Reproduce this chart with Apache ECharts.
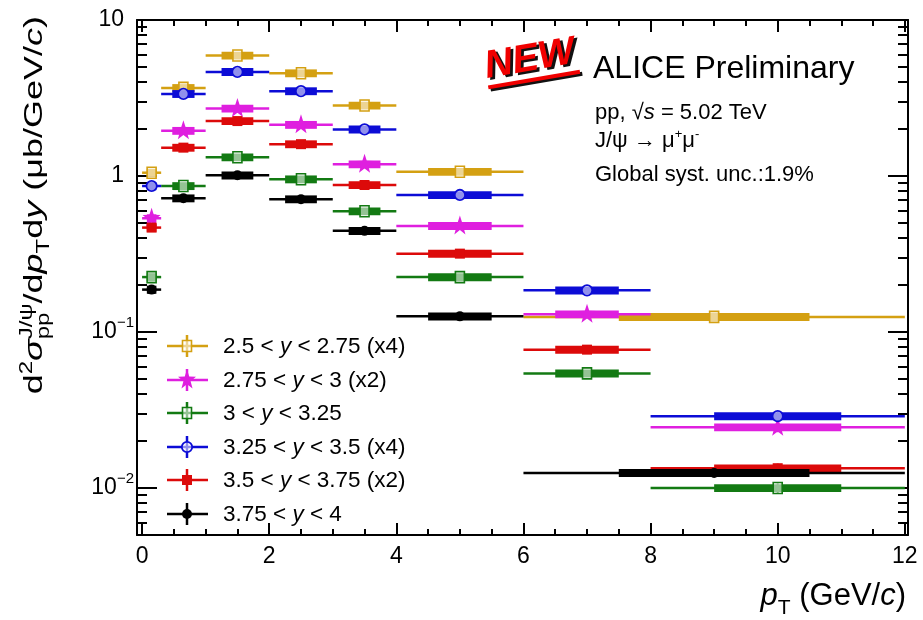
<!DOCTYPE html>
<html>
<head>
<meta charset="utf-8">
<script src="https://cdn.jsdelivr.net/npm/echarts@6/dist/echarts.min.js"></script>
<style>
  html, body { margin: 0; padding: 0; background: #fff; }
  #chart { width: 923px; height: 620px; }
</style>
</head>
<body>
<div id="chart"></div>
<script>
// pT bin edges (GeV/c); the two lowest-statistics intervals merge 6-12
const ptEdges = [0, 0.3, 1, 2, 3, 4, 6, 8, 12];
const ptEdgesWide = [0, 0.3, 1, 2, 3, 4, 6, 12];

// Rapidity intervals and the factor each one is scaled by
const yLow = ['2.5', '2.75', '3', '3.25', '3.5', '3.75'];
const yHigh = ['2.75', '3', '3.25', '3.5', '3.75', '4'];
const scaleTag = ['(x4)', '(x2)', '', '(x4)', '(x2)', ''];

// d2sigma/dpT dy in ub/(GeV/c), scale factors already applied
const xsec_250_275 = [1.05, 3.67, 5.92, 4.56, 2.83, 1.065, 0.125];
const xsec_275_300 = [0.536, 1.95, 2.71, 2.13, 1.19, 0.479, 0.130, 0.0245];
const xsec_300_325 = [0.225, 0.863, 1.32, 0.953, 0.594, 0.225, 0.0543, 0.0100];
const xsec_325_350 = [0.863, 3.36, 4.65, 3.50, 1.99, 0.756, 0.185, 0.0289];
const xsec_350_375 = [0.467, 1.52, 2.25, 1.60, 0.876, 0.318, 0.0771, 0.0134];
const xsec_375_400 = [0.187, 0.72, 1.01, 0.71, 0.445, 0.126, 0.0125];

// Relative statistical uncertainties
const stat_250_275 = [0.03, 0.015, 0.012, 0.012, 0.015, 0.02, 0.05];
const stat_275_300 = [0.03, 0.015, 0.012, 0.012, 0.015, 0.02, 0.04, 0.07];
const stat_300_325 = [0.03, 0.015, 0.012, 0.012, 0.015, 0.02, 0.04, 0.07];
const stat_325_350 = [0.03, 0.015, 0.012, 0.012, 0.015, 0.02, 0.04, 0.07];
const stat_350_375 = [0.03, 0.015, 0.012, 0.012, 0.015, 0.02, 0.04, 0.07];
const stat_375_400 = [0.03, 0.015, 0.012, 0.012, 0.015, 0.02, 0.05];

// Relative systematic uncertainties (boxes)
const sys_250_275 = [0.06, 0.058, 0.058, 0.058, 0.058, 0.058, 0.058];
const sys_275_300 = [0.06, 0.058, 0.058, 0.058, 0.058, 0.058, 0.058, 0.058];
const sys_300_325 = [0.06, 0.058, 0.058, 0.058, 0.058, 0.058, 0.058, 0.058];
const sys_325_350 = [0.06, 0.058, 0.058, 0.058, 0.058, 0.058, 0.058, 0.058];
const sys_350_375 = [0.06, 0.058, 0.058, 0.058, 0.058, 0.058, 0.058, 0.058];
const sys_375_400 = [0.06, 0.058, 0.058, 0.058, 0.058, 0.058, 0.058];

// Axis ticks and labels
const xTickValues = [0, 2, 4, 6, 8, 10, 12];
const xTickLabels = ['0', '2', '4', '6', '8', '10', '12'];
const yTickValues = [0.01, 0.1, 1, 10];
const yTickLabels = ['10^−2', '10^−1', '1', '10'];

const X_MIN = -0.08, X_MAX = 12.05;
const Y_MIN = 0.005, Y_MAX = 10;

const FAMILY = '"Liberation Sans", Arial, Helvetica, sans-serif';

const xMinorValues = [];
for (let v = 0.5; v < 12; v += 0.5) if (v % 2 !== 0) xMinorValues.push(v);
const yMinorValues = [];
for (let e = -3; e <= 0; e++) {
  for (let m = 2; m <= 9; m++) {
    const v = +(m * Math.pow(10, e)).toPrecision(3);
    if (v >= Y_MIN && v < Y_MAX) yMinorValues.push(v);
  }
}

const groups = [
  { vals: xsec_250_275, edges: ptEdgesWide, stat: stat_250_275, sys: sys_250_275, color: '#d4a012', marker: 'openSquare' },
  { vals: xsec_275_300, edges: ptEdges, stat: stat_275_300, sys: sys_275_300, color: '#df1fdf', marker: 'star' },
  { vals: xsec_300_325, edges: ptEdges, stat: stat_300_325, sys: sys_300_325, color: '#137a13', marker: 'openSquare' },
  { vals: xsec_325_350, edges: ptEdges, stat: stat_325_350, sys: sys_325_350, color: '#0c0cd6', marker: 'openCircle' },
  { vals: xsec_350_375, edges: ptEdges, stat: stat_350_375, sys: sys_350_375, color: '#dc0a0a', marker: 'fullSquare' },
  { vals: xsec_375_400, edges: ptEdgesWide, stat: stat_375_400, sys: sys_375_400, color: '#000000', marker: 'fullCircle' }
];

// ---------- marker shapes ----------
function starPoints(cx, cy, R, r, sx) {
  const pts = [];
  for (let k = 0; k < 10; k++) {
    const a = -Math.PI / 2 + k * Math.PI / 5;
    const rad = k % 2 ? r : R;
    pts.push([cx + sx * rad * Math.cos(a), cy + rad * Math.sin(a)]);
  }
  return pts;
}
function markerShapes(kind, color, cx, cy) {
  switch (kind) {
    case 'openSquare':
      return [{ type: 'rect', shape: { x: cx - 4.5, y: cy - 5.5, width: 9, height: 11 },
        style: { fill: 'rgba(255,255,255,0.55)', stroke: color, lineWidth: 1.6 } }];
    case 'star':
      return [{ type: 'polygon', shape: { points: starPoints(cx, cy, 10.5, 4.2, 0.9) }, style: { fill: color } }];
    case 'openCircle':
      return [{ type: 'circle', shape: { cx: cx, cy: cy, r: 5.2 },
        style: { fill: 'rgba(255,255,255,0.55)', stroke: color, lineWidth: 1.8 } }];
    case 'fullSquare':
      return [{ type: 'rect', shape: { x: cx - 5, y: cy - 5, width: 10, height: 10 }, style: { fill: color } }];
    default:
      return [{ type: 'circle', shape: { cx: cx, cy: cy, r: 5 }, style: { fill: color } }];
  }
}

// ---------- one series per rapidity interval ----------
function makeSeries(g) {
  const data = g.vals.map((v, i) => [g.edges[i], g.edges[i + 1], v, g.stat[i] * v, g.sys[i]]);
  return {
    type: 'custom',
    xAxisIndex: 0,
    yAxisIndex: 0,
    data: data,
    encode: { x: [0, 1], y: 2 },
    renderItem: function (params, api) {
      const lo = api.value(0), hi = api.value(1), v = api.value(2), es = api.value(3), rs = api.value(4);
      const mid = (lo + hi) / 2, q = (hi - lo) / 4;
      const a = api.coord([lo, v]), b = api.coord([hi, v]), c = api.coord([mid, v]);
      const t = api.coord([lo + q, v * (1 + rs)]), u = api.coord([hi - q, v * (1 - rs)]);
      const e1 = api.coord([mid, v + es]), e2 = api.coord([mid, v - es]);
      return {
        type: 'group',
        children: [
          { type: 'line', shape: { x1: a[0], y1: a[1], x2: b[0], y2: b[1] }, style: { stroke: g.color, lineWidth: 2.5 } },
          { type: 'rect', shape: { x: t[0], y: t[1], width: u[0] - t[0], height: u[1] - t[1] }, style: { fill: g.color } },
          { type: 'line', shape: { x1: e1[0], y1: e1[1], x2: e2[0], y2: e2[1] }, style: { stroke: g.color, lineWidth: 2 } }
        ].concat(markerShapes(g.marker, g.color, c[0], c[1]))
      };
    }
  };
}

// ---------- text runs with italics, sub- and superscripts ----------
const meas = document.createElement('canvas').getContext('2d');
function run(segs, base, color, bold) {
  const kids = [];
  let x = 0, held = 0;
  segs.forEach(function (sg) {
    const size = sg.size || base;
    const it = !!sg.it;
    meas.font = (it ? 'italic ' : '') + (bold ? 'bold ' : '') + size + 'px ' + FAMILY;
    const w = meas.measureText(sg.t).width;
    kids.push({
      type: 'text', x: x + (sg.dx || 0), y: -(sg.rise || 0) - 0.33 * size,
      style: {
        text: sg.t, fontSize: size, fontFamily: FAMILY,
        fontStyle: it ? 'italic' : 'normal', fontWeight: bold ? 'bold' : 'normal',
        fill: color || '#000', textAlign: 'left', textVerticalAlign: 'middle', verticalAlign: 'middle'
      }
    });
    if (sg.hold) { held = w; } else { x += Math.max(w, held); held = 0; }
  });
  return { kids: kids, width: x };
}

const graphics = [];

// y-axis title, reading upwards
const yTitle = run([
  { t: 'd' }, { t: '2', size: 24, rise: 14 }, { t: 'σ', it: true },
  { t: 'J/ψ', size: 24, rise: 14, hold: true }, { t: 'pp', size: 24, rise: -9 },
  { t: '/d' }, { t: 'p', it: true }, { t: 'T', size: 24, rise: -9 },
  { t: 'd' }, { t: 'y', it: true }, { t: ' (μb/GeV/' }, { t: 'c', it: true }, { t: ')' }
], 36, '#000');
graphics.push({ type: 'group', x: 43, y: 16 + yTitle.width, rotation: Math.PI / 2, scaleY: 0.74, children: yTitle.kids });

// x-axis title, right aligned
const xTitle = run([
  { t: 'p', it: true }, { t: 'T', size: 21, rise: -8 }, { t: ' (GeV/' }, { t: 'c', it: true }, { t: ')' }
], 31, '#000');
graphics.push({ type: 'group', x: 906 - xTitle.width, y: 607, children: xTitle.kids });

// "NEW" stamp
const stampShadow = run([{ t: 'NEW', it: true }], 39, '#111', true);
const stampFace = run([{ t: 'NEW', it: true }], 39, '#f00000', true);
graphics.push({
  type: 'group', x: 487, y: 80, rotation: 0.17,
  children: [
    { type: 'group', x: 2.5, y: 2.5, children: stampShadow.kids },
    { type: 'group', x: 0, y: 0, children: stampFace.kids },
    { type: 'line', shape: { x1: 2, y1: 10, x2: stampFace.width + 4, y2: 10 }, style: { stroke: '#111', lineWidth: 4 } },
    { type: 'line', shape: { x1: 0, y1: 7.5, x2: stampFace.width + 2, y2: 7.5 }, style: { stroke: '#f00000', lineWidth: 4 } }
  ]
});

// Experiment / collision labels
const infoLines = [
  { segs: [{ t: 'ALICE Preliminary' }], size: 32, x: 593, base: 80 },
  { segs: [{ t: 'pp, √' }, { t: 's', it: true }, { t: ' = 5.02 TeV' }], size: 22, x: 595, base: 120 },
  { segs: [{ t: 'J/ψ → μ' }, { t: '+', size: 13, rise: 9 }, { t: 'μ' }, { t: '-', size: 13, rise: 9 }], size: 22, x: 595, base: 148 },
  { segs: [{ t: 'Global syst. unc.:1.9%' }], size: 22, x: 595, base: 182 }
];
infoLines.forEach(function (ln) {
  const r = run(ln.segs, ln.size, '#000');
  graphics.push({ type: 'group', x: ln.x, y: ln.base, children: r.kids });
});

// Legend entries
const legendRows = [346, 380, 413, 447, 480, 514];
groups.forEach(function (g, i) {
  const cy = legendRows[i];
  graphics.push({ type: 'line', shape: { x1: 167, y1: cy, x2: 208, y2: cy }, style: { stroke: g.color, lineWidth: 2.5 } });
  graphics.push({ type: 'line', shape: { x1: 187, y1: cy - 11, x2: 187, y2: cy + 11 }, style: { stroke: g.color, lineWidth: 2.5 } });
  markerShapes(g.marker, g.color, 187, cy).forEach(function (m) { graphics.push(m); });
  const tail = ' < ' + yHigh[i] + (scaleTag[i] ? ' ' + scaleTag[i] : '');
  const r = run([{ t: yLow[i] + ' < ' }, { t: 'y', it: true }, { t: tail }], 22.5, '#000');
  graphics.push({ type: 'group', x: 223, y: cy + 8, children: r.kids });
});

// ---------- axes: labelled major ticks, mirrored frame, minor ticks ----------
function xAx(pos, line, ticks, len, labels) {
  return {
    type: 'value', position: pos, min: X_MIN, max: X_MAX,
    axisLine: { show: line, onZero: false, lineStyle: { color: '#000', width: 2 } },
    axisTick: { show: true, inside: true, length: len, customValues: ticks, lineStyle: { color: '#000', width: 2 } },
    axisLabel: labels ? {
      show: true, customValues: xTickValues, margin: 10, fontSize: 23, fontFamily: FAMILY, color: '#000',
      formatter: function (v) { const k = xTickValues.indexOf(v); return k >= 0 ? xTickLabels[k] : ''; }
    } : { show: false },
    splitLine: { show: false }, minorTick: { show: false }, minorSplitLine: { show: false }
  };
}
function yAx(pos, line, ticks, len, labels) {
  return {
    type: 'log', logBase: 10, position: pos, min: Y_MIN, max: Y_MAX,
    axisLine: { show: line, onZero: false, lineStyle: { color: '#000', width: 2 } },
    axisTick: { show: true, inside: true, length: len, customValues: ticks, lineStyle: { color: '#000', width: 2 } },
    axisLabel: labels ? {
      show: true, customValues: yTickValues, margin: 3, color: '#000',
      formatter: function (v) {
        let k = -1;
        yTickValues.forEach(function (t, j) { if (Math.abs(Math.log10(v) - Math.log10(t)) < 1e-6) k = j; });
        if (k < 0) return '';
        const parts = yTickLabels[k].split('^');
        return parts.length > 1 ? '{b|' + parts[0] + '}{s|' + parts[1] + '}' : '{p|' + parts[0] + '}';
      },
      rich: {
        b: { fontSize: 23, fontFamily: FAMILY, color: '#000', lineHeight: 34 },
        p: { fontSize: 23, fontFamily: FAMILY, color: '#000', lineHeight: 34, padding: [0, 10, 0, 0] },
        s: { fontSize: 15, fontFamily: FAMILY, color: '#000', lineHeight: 15, verticalAlign: 'top' }
      }
    } : { show: false },
    splitLine: { show: false }, minorTick: { show: false }, minorSplitLine: { show: false }
  };
}

const option = {
  animation: false,
  backgroundColor: '#ffffff',
  grid: { left: 137, right: 15, top: 20, bottom: 85, containLabel: false, outerBoundsMode: 'none' },
  xAxis: [
    xAx('bottom', true, xTickValues, 12, true),
    xAx('top', true, xTickValues, 12, false),
    xAx('bottom', false, xMinorValues, 6, false),
    xAx('top', false, xMinorValues, 6, false)
  ],
  yAxis: [
    yAx('left', true, yTickValues, 20, true),
    yAx('right', true, yTickValues, 20, false),
    yAx('left', false, yMinorValues, 10, false),
    yAx('right', false, yMinorValues, 10, false)
  ],
  series: groups.map(makeSeries),
  graphic: graphics
};

const chart = echarts.init(document.getElementById('chart'), null, { renderer: 'canvas', width: 923, height: 620 });
chart.setOption(option);
</script>
</body>
</html>
